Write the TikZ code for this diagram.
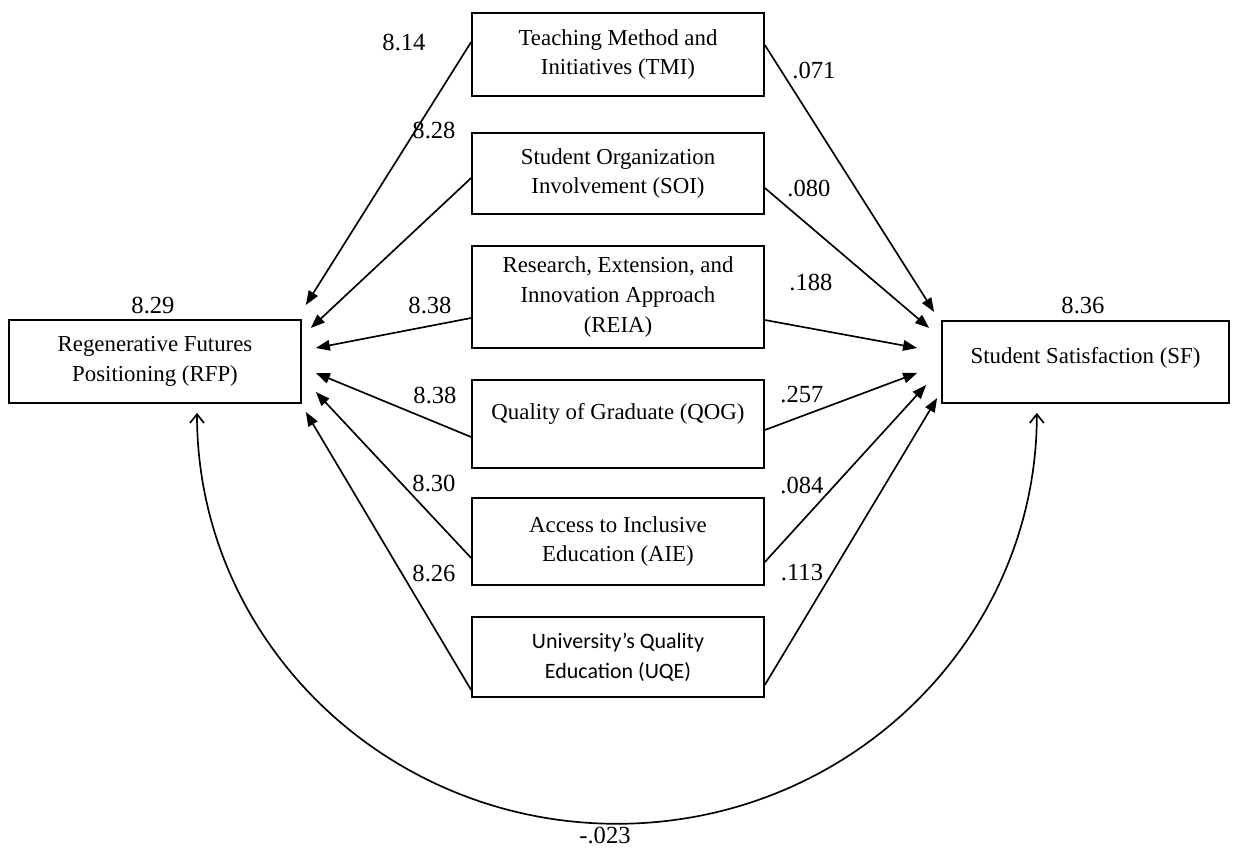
\documentclass[tikz,border=0pt]{standalone}
\usepackage{fontspec}
\setmainfont{Liberation Serif}
\newfontfamily\calibrifont{Carlito}
\usetikzlibrary{arrows.meta}

\begin{document}
\begin{tikzpicture}[x=0.02cm,y=-0.02cm,
    box/.style={draw,line width=1pt,minimum width=5.84cm,align=center,
      inner sep=2pt,font=\fontsize{13}{17}\selectfont},
    path/.style={line width=0.95pt,-{Triangle[length=8pt,width=6pt]}},
    coef/.style={inner sep=0pt,font=\fontsize{14}{16}\selectfont}]
  \useasboundingbox (0,0) rectangle (1234,848);

  % outcome boxes
  \node[box,minimum height=1.66cm] (rfp) at (155,361.5) {Regenerative Futures\\Positioning (RFP)};
  \node[box,minimum width=5.74cm,minimum height=1.64cm,text depth=8pt] (sf) at (1085.5,362) {Student Satisfaction (SF)};

  % predictor boxes in the middle column
  \node[box,minimum height=1.66cm] (tmi) at (618,54.5) {Teaching Method and\\Initiatives (TMI)};
  \node[box,minimum height=1.62cm] (soi) at (618,173.5) {Student Organization\\Involvement (SOI)};
  \node[box,minimum height=2.04cm] (reia) at (618,297) {Research, Extension, and\\Innovation Approach\\(REIA)};
  \node[box,minimum height=1.76cm,text depth=0.5cm] (qog) at (618,424) {Quality of Graduate (QOG)};
  \node[box,minimum height=1.74cm] (aie) at (618,541.5) {Access to Inclusive\\Education (AIE)};
  \node[box,minimum height=1.6cm,font=\calibrifont\fontsize{12.5}{17}\selectfont] (uqe) at (618,657) {University’s Quality\\Education (UQE)};

  % paths to RFP
  \foreach \src/\sy/\tx/\ty in {tmi/-12.5/4/-56.5, soi/4.5/9/-33.5, reia/21/14/-13.5,
      qog/13/14/11.5, aie/16.5/14/30.5, uqe/33/4/50.5}
    \draw[path] ([shift={(0,\sy)}]\src.west) -- ([shift={(\tx,\ty)}]rfp.east);

  % paths to SF
  \foreach \src/\sy/\tx/\ty in {tmi/-9.5/-7/-50, soi/14.5/-12/-34, reia/23/-24/-14,
      qog/6/-24/11, aie/20.5/-15/23, uqe/28/-4/36}
    \draw[path] ([shift={(0,\sy)}]\src.east) -- ([shift={(\tx,\ty)}]sf.west);

  % covariance between the two outcomes
  \draw[line width=0.95pt,{Straight Barb[length=5pt,width=8pt]}-{Straight Barb[length=5pt,width=8pt]}]
    ([shift={(42,9)}]rfp.south) arc[start angle=180,end angle=360,x radius=8.4cm,y radius=8.22cm];

  % coefficients
  \foreach \n/\x/\y/\v in {ltmi/404/42/8.14, lsoi/434/130/8.28, lreia/430/305/8.38,
      lqog/435/395/8.38, laie/434/483/8.30, luqe/434/573/8.26,
      rtmi/814/70/.071, rsoi/809/188/.080, rreia/811/282/.188,
      rqog/802/395/.257, raie/802/485/.084, ruqe/802/573/.113,
      vrfp/153/305/8.29, vsf/1083/305/8.36, cov/605/835/-.023}
    \node[coef] (\n) at (\x,\y) {\v};
\end{tikzpicture}
\end{document}
